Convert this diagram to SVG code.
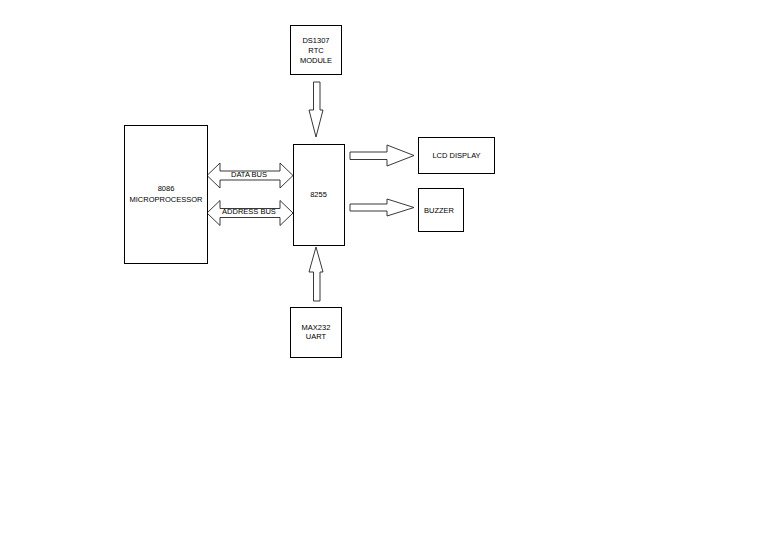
<svg xmlns="http://www.w3.org/2000/svg" width="768" height="543" viewBox="0 0 768 543">
<style>
.box{fill:#fff;stroke:#000;stroke-width:1}
.arr{fill:#fff;stroke:#222;stroke-width:0.9;stroke-linejoin:miter}
text{font-family:"Liberation Sans",Arial,sans-serif;font-size:7.5px;fill:#000;text-anchor:middle}
</style>
<rect width="768" height="543" fill="#fff"/>
<g id="connectors">
<path class="arr" d="M313.5,82 L320,82 L320,110 L323,110 L316,137 L309,110 L313.5,110 Z"/>
<path class="arr" d="M313.5,301 L320,301 L320,272 L323,272 L316,247 L309,272 L313.5,272 Z"/>
<path class="arr" d="M207,175.5 L220,163 L220,171 L280,171 L280,163 L293,175.5 L280,188 L280,180 L220,180 L220,188 Z"/>
<path class="arr" d="M207,213 L220,200.5 L220,208.5 L280,208.5 L280,200.5 L293,213 L280,225.5 L280,217.5 L220,217.5 L220,225.5 Z"/>
<path class="arr" d="M350,152 L387,152 L387,145 L414,155.5 L387,166 L387,159.5 L350,159.5 Z"/>
<path class="arr" d="M350,204 L387,204 L387,199 L414,207.5 L387,216 L387,211 L350,211 Z"/>
</g>
<g id="ds1307">
<rect class="box" x="290.5" y="25.5" width="51" height="49"/>
<text x="316" y="42.5">DS1307</text>
<text x="316" y="52.5">RTC</text>
<text x="316" y="62.5">MODULE</text>
</g>
<g id="cpu8086">
<rect class="box" x="124.5" y="125.5" width="83" height="138"/>
<text x="166" y="190.7">8086</text>
<text x="166" y="201.7">MICROPROCESSOR</text>
</g>
<g id="ppi8255">
<rect class="box" x="293.5" y="144.5" width="51" height="101"/>
<text x="318.5" y="196.7">8255</text>
</g>
<g id="lcd">
<rect class="box" x="418.5" y="137.5" width="76" height="36"/>
<text x="456.5" y="157.7">LCD DISPLAY</text>
</g>
<g id="buzzer">
<rect class="box" x="418.5" y="188.5" width="45" height="43"/>
<text x="439" y="212.7">BUZZER</text>
</g>
<g id="max232">
<rect class="box" x="290.5" y="307.5" width="51" height="50"/>
<text x="316" y="329.7">MAX232</text>
<text x="316" y="339.4">UART</text>
</g>
<g id="labels">
<text x="249" y="176.7">DATA BUS</text>
<text x="249" y="214.4">ADDRESS BUS</text>
</g>
</svg>
